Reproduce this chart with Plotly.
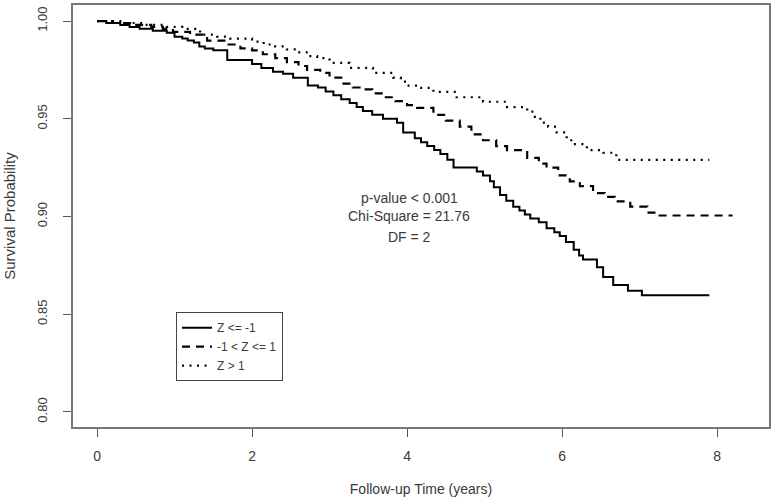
import plotly.graph_objects as go

# Kaplan-Meier step data
t_low = [0, 0.12, 0.3, 0.42, 0.55, 0.72, 0.9, 1.0, 1.1, 1.17, 1.25, 1.32, 1.39, 1.5, 1.68,
         2.0, 2.12, 2.27, 2.4, 2.53, 2.72, 2.85, 2.95, 3.05, 3.15, 3.26, 3.35, 3.43, 3.55,
         3.69, 3.87, 3.95, 4.1, 4.18, 4.26, 4.35, 4.43, 4.52, 4.6, 4.9, 4.98, 5.07, 5.12,
         5.2, 5.28, 5.37, 5.45, 5.52, 5.59, 5.7, 5.8, 5.9, 5.97, 6.05, 6.15, 6.22, 6.27,
         6.45, 6.53, 6.66, 6.85, 7.03, 7.9]
s_low = [1.0, 0.999, 0.998, 0.997, 0.996, 0.995, 0.994, 0.992, 0.991, 0.990, 0.989, 0.987,
         0.986, 0.985, 0.980, 0.978, 0.976, 0.974, 0.973, 0.971, 0.967, 0.966, 0.964, 0.962,
         0.960, 0.958, 0.956, 0.954, 0.952, 0.950, 0.948, 0.943, 0.940, 0.938, 0.936, 0.934,
         0.932, 0.929, 0.925, 0.923, 0.921, 0.918, 0.915, 0.911, 0.908, 0.905, 0.903, 0.901,
         0.899, 0.897, 0.894, 0.892, 0.890, 0.887, 0.883, 0.880, 0.878, 0.874, 0.869, 0.865,
         0.862, 0.8597, 0.8597]

t_mid = [0, 0.2, 0.45, 0.7, 0.85, 0.98, 1.2, 1.42, 1.68, 1.85, 2.0, 2.14, 2.3, 2.45, 2.6,
         2.71, 2.88, 3.0, 3.18, 3.3, 3.43, 3.55, 3.69, 3.85, 4.0, 4.13, 4.34, 4.5, 4.68,
         4.83, 4.98, 5.15, 5.29, 5.55, 5.7, 5.8, 5.95, 6.1, 6.23, 6.4, 6.55, 6.68, 6.88,
         7.1, 7.22, 8.2]
s_mid = [1.0, 0.999, 0.998, 0.997, 0.996, 0.9945, 0.993, 0.990, 0.988, 0.986, 0.985, 0.983,
         0.981, 0.979, 0.977, 0.975, 0.9735, 0.971, 0.968, 0.966, 0.965, 0.963, 0.961, 0.959,
         0.957, 0.9556, 0.952, 0.949, 0.946, 0.942, 0.939, 0.936, 0.934, 0.930, 0.927, 0.925,
         0.921, 0.918, 0.9155, 0.912, 0.910, 0.9077, 0.905, 0.902, 0.9005, 0.9005]

t_high = [0, 0.3, 0.6, 0.9, 1.1, 1.33, 1.55, 1.72, 2.0, 2.15, 2.27, 2.45, 2.58, 2.72, 2.84,
          3.0, 3.26, 3.56, 3.82, 3.92, 4.0, 4.13, 4.34, 4.64, 4.98, 5.29, 5.55, 5.65, 5.72,
          5.82, 5.93, 6.06, 6.15, 6.32, 6.53, 6.7, 7.9]
s_high = [1.0, 0.999, 0.998, 0.997, 0.996, 0.993, 0.992, 0.991, 0.9895, 0.988, 0.987, 0.9855,
          0.984, 0.982, 0.981, 0.9786, 0.976, 0.9735, 0.971, 0.969, 0.967, 0.9658, 0.9638,
          0.961, 0.9587, 0.956, 0.9536, 0.951, 0.948, 0.946, 0.943, 0.939, 0.937, 0.934,
          0.9326, 0.929, 0.929]

group_names = ["Z <= -1", "-1 < Z <= 1", "Z > 1"]
x_ticks = [0, 2, 4, 6, 8]
y_ticks = [0.80, 0.85, 0.90, 0.95, 1.00]
y_tick_labels = ["0.80", "0.85", "0.90", "0.95", "1.00"]
stats_text = ["p-value < 0.001", "Chi-Square = 21.76", "DF = 2"]
stats_x = [4.03, 4.03, 4.03]
stats_y = [0.9097, 0.900, 0.8893]

FONT = "Liberation Sans, Arial, sans-serif"
TXT = "#3a3a3a"

fig = go.Figure()
styles = [dict(dash="solid", width=2), dict(dash="8px,6px", width=2.2), dict(dash="2px,5.5px", width=2.2)]
for tx, sy, name, st in zip([t_low, t_mid, t_high], [s_low, s_mid, s_high], group_names, styles):
    fig.add_trace(go.Scatter(x=tx, y=sy, mode="lines", name=name, line_shape="hv",
                             line=dict(color="black", width=st["width"], dash=st["dash"])))

for txt, ax_, ay_ in zip(stats_text, stats_x, stats_y):
    fig.add_annotation(x=ax_, y=ay_, text=txt, showarrow=False, xanchor="center", yanchor="middle",
                       font=dict(family=FONT, size=14, color=TXT))

fig.update_layout(
    width=775, height=504,
    margin=dict(l=73, r=6, t=5, b=77, autoexpand=False),
    paper_bgcolor="white", plot_bgcolor="white",
    font=dict(family=FONT, color=TXT),
    showlegend=True,
    legend=dict(x=0.148, y=0.272, xanchor="left", yanchor="top",
                bordercolor="#444", borderwidth=1, bgcolor="white",
                font=dict(family=FONT, size=12, color=TXT), tracegroupgap=0),
    xaxis=dict(range=[-0.31, 8.67], tickvals=x_ticks, ticktext=[str(v) for v in x_ticks],
               automargin=False,
               showgrid=False, zeroline=False, showline=True, mirror=True,
               linecolor="#777", linewidth=1.5, ticks="outside", ticklen=8, tickcolor="#555",
               tickfont=dict(family=FONT, size=14, color=TXT), ticklabelstandoff=7,
               title=dict(text="Follow-up Time (years)", font=dict(family=FONT, size=14, color=TXT),
                          standoff=22)),
    yaxis=dict(range=[0.7923, 1.0082], tickvals=y_ticks, ticktext=y_tick_labels,
               automargin=False,
               showgrid=False, zeroline=False, showline=True, mirror=True,
               linecolor="#777", linewidth=1.5, ticks="outside", ticklen=8, tickcolor="#555",
               tickangle=-90, tickfont=dict(family=FONT, size=13, color=TXT), ticklabelstandoff=11,
               title=dict(text="Survival Probability", font=dict(family=FONT, size=15, color=TXT),
                          standoff=16)),
)

fig.write_html("out.html", config={"displayModeBar": False},
               post_script="document.body.style.margin='0';")
